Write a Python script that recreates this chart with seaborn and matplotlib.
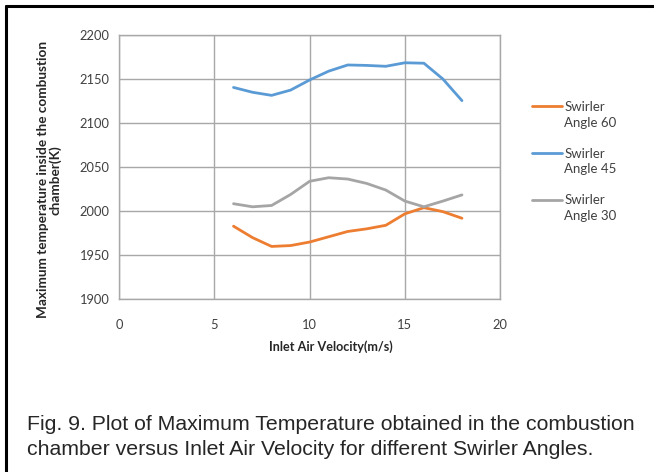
import pandas as pd
import matplotlib.pyplot as plt
import seaborn as sns
from matplotlib.lines import Line2D

# Values (inlet velocity in m/s, temperature in K)
velocity = [6, 7, 8, 9, 10, 11, 12, 13, 14, 15, 16, 17, 18]
angle_60 = [1983, 1970, 1960, 1961, 1965, 1971, 1977, 1980, 1984, 1997, 2004, 1999.5, 1992]
angle_45 = [2140.5, 2135, 2131.5, 2137.5, 2149, 2159, 2166, 2165.5, 2164.5, 2168.5, 2168, 2150, 2125.5]
angle_30 = [2008.5, 2005, 2006.5, 2019, 2034, 2038, 2036.5, 2031.5, 2024, 2011.5, 2005, 2011.5, 2018.5]
series_names = ["Angle 60", "Angle 45", "Angle 30"]
series_colors = ["#ED7D31", "#5B9BD5", "#A5A5A5"]
x_ticks = [0, 5, 10, 15, 20]
y_ticks = [1900, 1950, 2000, 2050, 2100, 2150, 2200]

df = pd.concat([
    pd.DataFrame({"velocity": velocity, "temp": vals, "series": name})
    for vals, name in zip([angle_60, angle_45, angle_30], series_names)
])

sns.set_style("white")
plt.rcParams["font.family"] = ["Lato", "DejaVu Sans"]

fig = plt.figure(figsize=(6.54, 4.72), dpi=100)
ax = fig.add_axes([0.1824, 0.3659, 0.5822, 0.5599])

sns.lineplot(data=df, x="velocity", y="temp", hue="series",
             palette=dict(zip(series_names, series_colors)),
             linewidth=2, ax=ax, legend=False)

ax.set_xlim(0, 20)
ax.set_ylim(1900, 2200)
ax.set_xticks(x_ticks)
ax.set_yticks(y_ticks)
ax.tick_params(length=0, labelsize=9.3, labelcolor="#404040")
ax.tick_params(axis="x", pad=14)
ax.tick_params(axis="y", pad=7)
ax.grid(True, color="#A8A8A8", linewidth=1)
for sp in ax.spines.values():
    sp.set_color("#A8A8A8")
    sp.set_linewidth(1)

ax.set_xlabel("Inlet Air Velocity(m/s)", fontsize=9.1, fontweight="bold")
ax.xaxis.set_label_coords(0.557, -0.155)
ax.set_ylabel("Maximum temperature inside the combustion\nchamber(K)",
              fontsize=9.8, fontweight="bold", linespacing=1.0)
ax.yaxis.set_label_coords(-0.151, 0.452)

# legend: "Swirler" row carries the line, "Angle xx" row below it, blank row between entries
handles, labels = [], []
for i, (name, c) in enumerate(zip(series_names, series_colors)):
    handles += [Line2D([], [], color=c, linewidth=2), Line2D([], [], linestyle="none")]
    labels += ["Swirler", name]
    if i < len(series_names) - 1:
        handles.append(Line2D([], [], linestyle="none"))
        labels.append(" ")
ax.legend(handles, labels, loc="upper left", bbox_to_anchor=(1.066, 0.775),
          frameon=False, fontsize=9.5, handlelength=2.3, handletextpad=0.15,
          labelspacing=0.27, labelcolor="#404040", borderpad=0)

# page border (left and top) and caption
fig.add_artist(Line2D([0.0095, 0.0095], [0, 0.988], color="black", linewidth=2.2))
fig.add_artist(Line2D([0.0095, 1], [0.988, 0.988], color="black", linewidth=2.2))
fig.text(0.041, 0.037, "Fig. 9. Plot of Maximum Temperature obtained in the combustion\n"
         "chamber versus Inlet Air Velocity for different Swirler Angles.",
         family=["Liberation Sans", "DejaVu Sans"], fontsize=15.3, linespacing=1.35,
         va="baseline", ha="left")

fig.savefig("out.png", dpi=100)
